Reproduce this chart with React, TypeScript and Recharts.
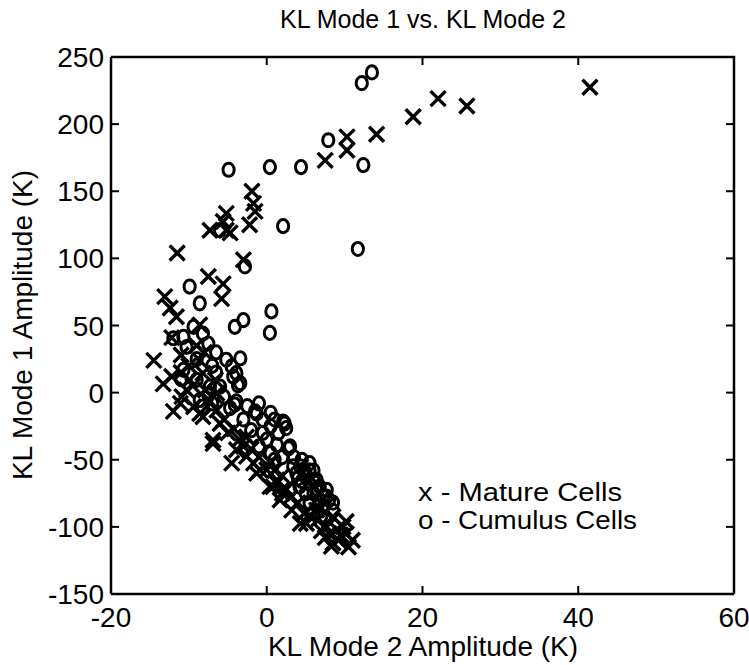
import React from 'react';
import { ScatterChart, Scatter, XAxis, YAxis } from 'recharts';

// [KL mode 2, KL mode 1] amplitude pairs
const matureCells: [number, number][] = [
  [41.5, 227.5], [22, 219], [25.7, 213.5], [18.8, 205.5], [14.1, 192.5], [10.3, 190.5], [10.3, 180.5], [7.5, 173],
  [-1.9, 150], [-1.7, 141], [-1.5, 135], [-2.2, 125], [-5.2, 133.5], [-5.6, 127.5], [-7.3, 121], [-5.2, 121], [-4.7, 119],
  [-11.5, 104], [-3, 99], [-7.5, 86.5], [-5.6, 81], [-5.8, 70], [-13.1, 71.5], [-12.4, 63], [-11.6, 56.5], [-8.6, 50.5], [-12.2, 41],
  [-14.5, 24], [-8.6, 24], [-12.2, 12], [-13.3, 6.5], [-9.9, 9.5], [-8.2, 14.5], [-6.6, 9.5], [-10.3, 2], [-10.9, -3], [-7.9, 2], [-6.4, -0.5],
  [-11.1, -8], [-12, -14], [-9.4, -10.5], [-8.6, -15.5], [-8.2, -18], [-6.4, -13], [-6, -23], [-4.2, -27], [-6.9, -35.5], [-6.9, -38],
  [-3.9, -42.5], [-3, -40], [-2.6, -33], [-2.6, -47.5], [-4.5, -52.5], [-1.7, -52.5], [-1.3, -60], [-0.9, -57.5], [0, -57.5],
  [0.4, -70], [0.8, -70], [1.3, -67.5], [1.3, -65], [1.7, -80], [3.2, -87.5], [4.3, -97.5], [5.1, -97.5], [6.4, -87.5],
  [7.7, -100], [8.5, -92.5], [9.8, -100], [10.2, -96], [9.2, -110], [10.5, -115], [8.3, -114.5], [8.5, -112], [10.2, -105], [11, -110],
  [-7.5, -5], [-5.5, -20], [-5, -30], [-3.5, -35], [-2, -42], [-1, -48], [0.5, -52], [1, -58], [2, -62], [2.5, -72], [3, -78],
  [4, -82], [4.8, -90], [5.5, -92], [6.5, -95], [7, -103], [8, -105], [9, -102], [9.5, -106], [7.5, -108], [2, -75],
  [-9.5, 5], [-11, 15], [-10, 20], [-8, 30], [-9, 35], [-11, 28],
];

const cumulusCells: [number, number][] = [
  [13.5, 238.5], [12.2, 230.5], [7.9, 188], [12.4, 169.5], [4.4, 168], [0.4, 168], [-4.9, 166], [11.7, 107], [2.1, 124], [-6, 121], [-2.8, 94],
  [-9.9, 79], [-8.6, 66.5], [0.6, 60.5], [-3, 54], [-4.1, 49], [0.4, 44.5], [-9.4, 49], [-8.2, 44], [-10.7, 41.5], [-12, 40.5], [-7.5, 36.5], [-10.3, 34],
  [-5.2, 24.5], [-3.4, 25.5], [-4.5, 19.5], [-10.7, 17], [-3.9, 14.5], [-4.3, 12], [-9, 9.5], [-3.4, 7], [-7.3, 4.5], [-6, 4.5], [-3.7, 5.5],
  [-8.6, -5.5], [-3.9, -6.5], [-8.2, -10.5], [-4.7, -11.5], [-4.1, -9], [-1.5, -14], [-1.3, -15.5], [-0.5, -20.5], [2.1, -21.5], [2.3, -23], [2.5, -26.5],
  [-2, -28], [0.5, -25], [-3, -20], [1.5, -30], [0, -35], [1.3, -39], [3, -40], [2.8, -41.5], [-1, -40], [0.5, -45],
  [3.4, -55], [4.3, -55], [5.5, -52.5], [4.7, -57.5], [5.1, -62.5], [6, -65], [6.4, -65], [4.5, -66], [5.5, -68], [6.8, -70], [7.7, -72.5],
  [3, -72.5], [7.3, -77.5], [7.7, -77.5], [6.8, -80], [7.3, -85], [8.5, -88], [6, -90],
  [-7, -8], [-5.5, -3], [-2.5, -10], [-1, -8], [0.5, -15], [1, -20], [-0.5, -30], [1, -50], [2, -48], [3.5, -48], [4.5, -50],
  [5, -60], [6, -58], [3.8, -60], [4.2, -70], [5, -75], [6, -75], [5.5, -82], [6.5, -85], [7, -92], [8, -80], [8.5, -82],
  [-6.5, 15], [-7, 20], [-9, 25], [-6.5, 30], [-11, 10], [-7.5, -2], [5.5, -58], [6.5, -72], [4, -64],
];

const xTicks = [-20, 0, 20, 40, 60];
const yTicks = [-150, -100, -50, 0, 50, 100, 150, 200, 250];

const X_MIN = -20;
const X_MAX = 60;
const Y_MIN = -150;
const Y_MAX = 250;

const W = 749;
const H = 665;
const MARGIN = { top: 57, right: 15, bottom: 11, left: 11 };
const X_AXIS_H = 60;
const Y_AXIS_W = 100;
// plot box follows from the margins and axis sizes
const PLOT_TOP = MARGIN.top;
const PLOT_RIGHT = W - MARGIN.right;
const PLOT_LEFT = MARGIN.left + Y_AXIS_W;
const PLOT_BOTTOM = H - MARGIN.bottom - X_AXIS_H;

const FONT = '"Liberation Sans", Arial, Helvetica, sans-serif';
const TICK_LEN = 8;
const FRAME_W = 2.5;

const toPoints = (list: [number, number][]) => list.map(([x, y]) => ({ x, y }));

const CrossMark = (props: any) => {
  const { cx, cy } = props;
  const s = 7.5;
  return (
    <g stroke="#000" strokeWidth={3.4}>
      <line x1={cx - s} y1={cy - s} x2={cx + s} y2={cy + s} />
      <line x1={cx - s} y1={cy + s} x2={cx + s} y2={cy - s} />
    </g>
  );
};

const RingMark = (props: any) => {
  const { cx, cy } = props;
  return <ellipse cx={cx} cy={cy} rx={5.6} ry={6.6} fill="none" stroke="#000" strokeWidth={3} />;
};

// bottom ticks point inward and are mirrored on the top edge
const BottomTick = (props: any) => {
  const { x, y, payload } = props;
  return (
    <g>
      <g stroke="#000" strokeWidth={2} fill="none">
        <path d={`M${x},${y}L${x},${y - TICK_LEN}`} />
        <path d={`M${x},${PLOT_TOP}L${x},${PLOT_TOP + TICK_LEN}`} />
      </g>
      <text x={x} y={y + 33} textAnchor="middle" fontSize={28} fontFamily={FONT} fill="#000">
        {payload.value}
      </text>
    </g>
  );
};

// left ticks point inward and are mirrored on the right edge
const LeftTick = (props: any) => {
  const { x, y, payload } = props;
  return (
    <g>
      <g stroke="#000" strokeWidth={2} fill="none">
        <path d={`M${x},${y}L${x + TICK_LEN},${y}`} />
        <path d={`M${PLOT_RIGHT},${y}L${PLOT_RIGHT - TICK_LEN},${y}`} />
      </g>
      <text x={x - 7} y={y + 10} textAnchor="end" fontSize={28} fontFamily={FONT} fill="#000">
        {payload.value}
      </text>
    </g>
  );
};

const App: React.FC = () => {
  return (
    <div style={{ position: 'absolute', left: 0, top: 0, width: W, height: H, background: '#fff' }}>
      <ScatterChart width={W} height={H} margin={MARGIN}>
        <XAxis
          type="number"
          dataKey="x"
          domain={[X_MIN, X_MAX]}
          ticks={xTicks}
          allowDataOverflow
          height={X_AXIS_H}
          tickSize={0}
          tickMargin={0}
          tickLine={false}
          axisLine={{ stroke: '#000', strokeWidth: FRAME_W }}
          tick={<BottomTick />}
        />
        <YAxis
          type="number"
          dataKey="y"
          domain={[Y_MIN, Y_MAX]}
          ticks={yTicks}
          allowDataOverflow
          width={Y_AXIS_W}
          tickSize={0}
          tickMargin={0}
          tickLine={false}
          axisLine={{ stroke: '#000', strokeWidth: FRAME_W }}
          tick={<LeftTick />}
        />
        <Scatter
          name="Mature Cells"
          data={toPoints(matureCells)}
          shape={CrossMark}
          isAnimationActive={false}
        />
        <Scatter
          name="Cumulus Cells"
          data={toPoints(cumulusCells)}
          shape={RingMark}
          isAnimationActive={false}
        />
      </ScatterChart>
      <svg
        width={W}
        height={H}
        style={{ position: 'absolute', left: 0, top: 0, pointerEvents: 'none' }}
        fontFamily={FONT}
        fill="#000"
      >
        {/* top and right sides of the plot box */}
        <g stroke="#000" strokeWidth={FRAME_W} fill="none">
          <path d={`M${PLOT_LEFT},${PLOT_TOP}L${PLOT_RIGHT},${PLOT_TOP}L${PLOT_RIGHT},${PLOT_BOTTOM}`} />
        </g>
        <text x={423} y={28} textAnchor="middle" fontSize={25}>KL Mode 1 vs. KL Mode 2</text>
        <text x={423} y={656} textAnchor="middle" fontSize={28}>KL Mode 2 Amplitude (K)</text>
        <text x={32} y={325} textAnchor="middle" fontSize={28} transform="rotate(-90 32 325)">
          KL Mode 1 Amplitude (K)
        </text>
        <text x={418} y={501} fontSize={25} textLength={204} lengthAdjust="spacingAndGlyphs">x - Mature Cells</text>
        <text x={418} y={529} fontSize={25} textLength={219} lengthAdjust="spacingAndGlyphs">o - Cumulus Cells</text>
      </svg>
    </div>
  );
};

export default App;
